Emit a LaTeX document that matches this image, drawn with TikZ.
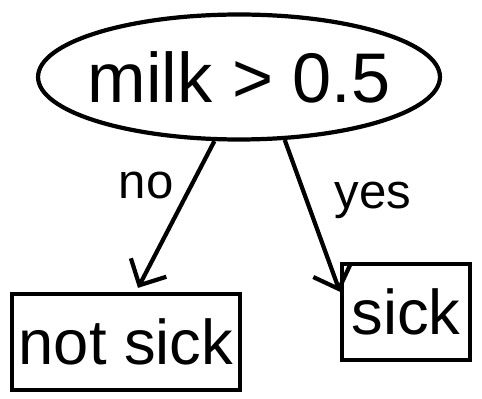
\documentclass[tikz,border=0pt]{standalone}
\usepackage{fontspec}
\setmainfont{Liberation Sans}
\usetikzlibrary{shapes.geometric,arrows.meta}
\begin{document}
\begin{tikzpicture}[x=0.02cm,y=-0.02cm,line width=2.4pt,
            test/.style={draw,ellipse,minimum width=8.04cm,minimum height=2.5cm,inner sep=0pt},
            leaf/.style={draw,rectangle,minimum height=1.92cm,font=\fontsize{36}{38}\selectfont},
            arr/.style={-{Straight Barb[length=4mm,width=8mm,line width=2.4pt]}},
            lbl/.style={font=\fontsize{28}{30}\selectfont}]
            \useasboundingbox (0,0) rectangle (482,398);
            \node[test,label={[font=\fontsize{40}{42}\selectfont]center:milk > 0.5}] (M) at (239,77) {};
            \node[leaf,minimum width=4.56cm] (N) at (126,342) {not sick};
            \node[leaf,minimum width=2.56cm] (S) at (406,312) {sick};
            
            \draw[arr] (M.-111) -- node[pos=0.3,left=2mm,lbl]{no} ([xshift=0.24cm,yshift=0.08cm]N.north);
            \draw[arr] (M.-54) -- node[pos=0.4,right=4mm,lbl]{yes} (S.163);
          \end{tikzpicture}
\end{document}
